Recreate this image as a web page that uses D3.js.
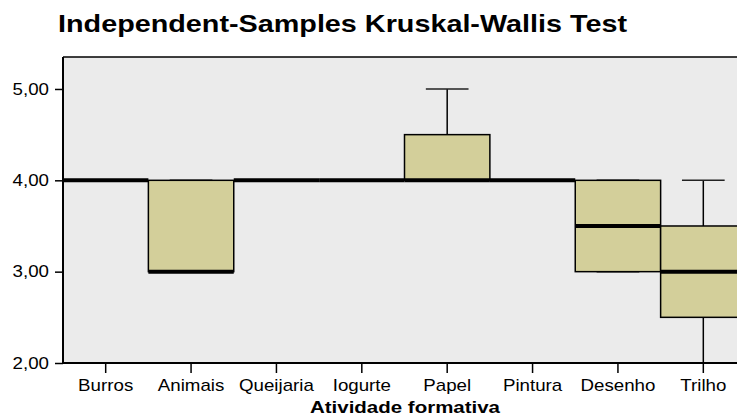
<!DOCTYPE html>
<html lang='en'>
<head>
  <meta charset='UTF-8'>
  <title>Independent-Samples Kruskal-Wallis Test</title>
  <style type='text/css'>
    body {
      margin: 0;
      background: #fff;
    }
    svg text {
      font-family: 'Liberation Sans', Arial, sans-serif;
      fill: #000;
    }
    .axis text {
      font-size: 16px;
    }
  </style>
  <script type='text/javascript' src='https://d3js.org/d3.v7.min.js'></script>
</head>
<body>
  <script type='text/javascript'>
    // box plot summary per group
    const categories = ['Burros', 'Animais', 'Queijaria', 'Iogurte', 'Papel', 'Pintura', 'Desenho', 'Trilho']
    const lowWhisker = [4, 3, 4, 4, 4, 4, 3, 2]
    const q1 = [4, 3, 4, 4, 4, 4, 3, 2.5]
    const median = [4, 3, 4, 4, 4, 4, 3.5, 3]
    const q3 = [4, 4, 4, 4, 4.5, 4, 4, 3.5]
    const highWhisker = [4, 4, 4, 4, 5, 4, 4, 4]
    const yTicks = [2, 3, 4, 5]

    const data = categories.map((c, i) => ({
      name: c, lo: lowWhisker[i], q1: q1[i], med: median[i], q3: q3[i], hi: highWhisker[i]
    }))

    const margin = {top: 57, left: 63}
    const plotW = 683
    const plotH = 306
    const stretch = 1.17 // the original text is a bit wide

    const svg = d3.select('body').append('svg')
      .attr('width', 737)
      .attr('height', 419)

    svg.append('text')
      .attr('x', 58)
      .attr('y', 32)
      .attr('textLength', 569)
      .attr('lengthAdjust', 'spacingAndGlyphs')
      .style('font-size', '24px')
      .style('font-weight', 'bold')
      .text('Independent-Samples Kruskal-Wallis Test')

    const g = svg.append('g')
      .attr('transform', `translate(${margin.left},${margin.top})`)

    const x = d3.scaleBand().domain(categories).range([0, plotW]).padding(0)
    const y = d3.scaleLinear().domain([2, 5.35]).range([plotH, 0])

    g.append('rect')
      .attr('width', plotW)
      .attr('height', plotH)
      .style('fill', '#ebebeb')

    const box = g.selectAll('.box')
      .data(data)
      .enter().append('g')
      .attr('class', 'box')
      .attr('transform', d => `translate(${x(d.name)},0)`)

    const bw = x.bandwidth()

    // whiskers
    box.filter(d => d.hi > d.q3).append('line')
      .attr('x1', bw / 2).attr('x2', bw / 2)
      .attr('y1', d => y(d.q3)).attr('y2', d => y(d.hi))
      .style('stroke', '#000').style('stroke-width', 1.5)
    box.filter(d => d.lo < d.q1).append('line')
      .attr('x1', bw / 2).attr('x2', bw / 2)
      .attr('y1', d => y(d.q1)).attr('y2', d => y(d.lo))
      .style('stroke', '#000').style('stroke-width', 1.5)
    box.filter(d => d.q3 > d.q1).each(function(d) {
      const s = d3.select(this)
      ;[d.lo, d.hi].forEach(v => {
        s.append('line')
          .attr('x1', bw / 4).attr('x2', bw * 3 / 4)
          .attr('y1', y(v)).attr('y2', y(v))
          .style('stroke', '#222').style('stroke-width', 1.5)
      })
    })

    // boxes
    box.filter(d => d.q3 > d.q1).append('rect')
      .attr('x', 0)
      .attr('width', bw)
      .attr('y', d => y(d.q3))
      .attr('height', d => y(d.q1) - y(d.q3))
      .style('fill', '#d3cf9a')
      .style('stroke', '#000')
      .style('stroke-width', 1.5)

    // medians
    box.append('line')
      .attr('x1', 0).attr('x2', bw)
      .attr('y1', d => y(d.med)).attr('y2', d => y(d.med))
      .style('stroke', '#000')
      .style('stroke-width', 4)

    // axes
    const yAxis = g.append('g')
      .attr('class', 'axis')
      .call(d3.axisLeft(y).tickValues(yTicks).tickSize(8).tickPadding(0)
        .tickFormat(d => d3.format('.2f')(d).replace('.', ',')))
    yAxis.select('.domain').remove()
    yAxis.selectAll('.tick line').style('stroke-width', 1.5)
    yAxis.selectAll('.tick text')
      .attr('x', -12)
      .attr('transform', `scale(${stretch},1)`)

    const xAxis = g.append('g')
      .attr('class', 'axis')
      .attr('transform', `translate(0,${plotH})`)
      .call(d3.axisBottom(x).tickSize(10).tickPadding(7))
    xAxis.select('.domain').remove()
    xAxis.selectAll('.tick line').style('stroke-width', 1.5)
    xAxis.selectAll('.tick text')
      .attr('transform', `scale(${stretch},1)`)

    g.append('line')
      .attr('x1', 0).attr('x2', 0).attr('y1', 0).attr('y2', plotH)
      .style('stroke', '#000').style('stroke-width', 2)
    g.append('line')
      .attr('x1', 0).attr('x2', plotW).attr('y1', 0).attr('y2', 0)
      .style('stroke', '#000').style('stroke-width', 1.5)
    g.append('line')
      .attr('x1', 0).attr('x2', plotW).attr('y1', plotH).attr('y2', plotH)
      .style('stroke', '#000').style('stroke-width', 2)

    svg.append('text')
      .attr('x', 310)
      .attr('y', 413)
      .attr('textLength', 190)
      .attr('lengthAdjust', 'spacingAndGlyphs')
      .style('font-size', '16px')
      .style('font-weight', 'bold')
      .text('Atividade formativa')
  </script>
</body>
</html>
